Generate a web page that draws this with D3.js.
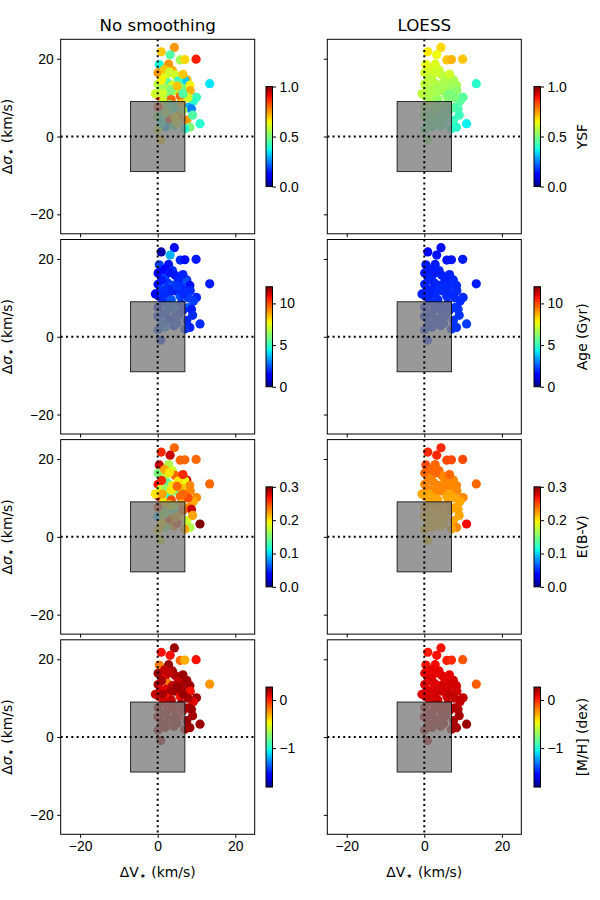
<!DOCTYPE html>
<html>
<head>
<meta charset="utf-8">
<script src="https://cdn.jsdelivr.net/npm/d3@7"></script>
<style>
  body { margin: 0; background: #fff; }
  svg { font-family: "DejaVu Sans", sans-serif; }
  .tick text { font-size: 13.9px; fill: #000; }
  .tick line, .domain { stroke: #000; }
</style>
</head>
<body>
<svg id="fig" width="600" height="900"></svg>
<script>
// star positions (same stars in every panel)
var dv = [4.3, 0.9, 3.2, 9.9, 5.8, 7.0, 0.4, 2.8, 0.1, 3.8, 2.0, 4.5, 7.5, 7.0, 5.3, 13.4, 2.6, 8.3, 8.4, 0.1,
          0.7, 2.8, 4.5, 10.0, 9.2, 0.3, -0.6, 5.8, 7.9, 8.7, 7.5, 10.9, 8.3, 7.0, 1.5, 3.5, 6.0, 0.1, 2.5, 4.5,
          5.5, 0.0, 3.0, 2.0, 0.1, 4.2, 0.8, 5.0, 1.5, 6.5, 1.0, 1.8, 6.2, 3.8, 9.0, 2.2, 7.8, 3.0,
          1.2, 3.5, 5.0, 4.0, 2.0, 6.5, 1.0, 4.5, 3.0, 6.5];
var ds = [22.9, 21.8, 21.0, 19.9, 19.7, 19.8, 18.5, 18.6, 16.4, 17.0, 15.7, 15.8, 14.6, 14.4, 14.3, 13.6, 13.8, 13.2, 11.8, 13.5,
          12.2, 10.9, 11.8, 10.1, 9.1, 10.4, 11.0, 10.4, 7.5, 7.1, 4.2, 3.3, 2.4, 2.0, 9.0, 9.5, 8.5, 7.6, 7.0, 6.5,
          5.5, 5.2, 4.5, 2.5, 1.8, 2.8, -0.9, 3.5, 5.8, 6.8, 14.5, 17.3, 12.5, 13.2, 5.5, 12.3, 10.0, 8.2,
          11.0, 12.0, 13.0, 8.0, 6.0, 11.0, 3.5, 5.0, 16.5, 16.0];

// raw values
var ysf = [0.75, 0.70, 0.45, 0.88, 0.55, 0.68, 0.38, 0.75, 0.75, 0.72, 0.62, 0.60, 0.72, 0.32, 0.42, 0.35, 0.45, 0.65, 0.72, 0.58,
           0.55, 0.50, 0.58, 0.42, 0.40, 0.85, 0.60, 0.80, 0.30, 0.25, 0.75, 0.40, 0.50, 0.40, 0.60, 0.80, 0.70, 0.85, 0.55, 0.40,
           0.75, 0.50, 0.85, 0.30, 0.60, 0.45, 0.70, 0.60, 0.40, 0.55, 0.65, 0.70, 0.50, 0.60, 0.45, 0.55, 0.60, 0.50,
           0.60, 0.50, 0.70, 0.45, 0.55, 0.45, 0.40, 0.65, 0.60, 0.70];
var age = [1.5, 0.4, 3.6, 1.8, 2.0, 1.6, 2.2, 1.7, 1.5, 2.0, 2.3, 1.8, 2.0, 2.5, 1.9, 1.8, 2.1, 1.7, 2.0, 1.6,
           2.2, 2.0, 1.8, 1.9, 2.2, 1.8, 1.5, 2.4, 2.6, 1.8, 2.0, 2.0, 1.9, 2.1, 2.0, 2.5, 2.0, 1.8, 2.8, 3.0,
           2.2, 2.4, 2.0, 3.2, 2.5, 2.0, 2.2, 2.4, 2.2, 2.0, 1.8, 1.5, 2.0, 2.3, 2.0, 2.1, 2.2, 2.4,
           2.0, 1.9, 2.1, 2.6, 2.3, 2.0, 2.8, 2.2, 1.7, 1.9];
var ebv = [0.24, 0.26, 0.28, 0.24, 0.24, 0.24, 0.28, 0.17, 0.15, 0.18, 0.17, 0.24, 0.28, 0.19, 0.20, 0.24, 0.14, 0.23, 0.23, 0.27,
           0.18, 0.12, 0.15, 0.23, 0.22, 0.28, 0.20, 0.24, 0.23, 0.28, 0.18, 0.30, 0.17, 0.22, 0.20, 0.25, 0.22, 0.25, 0.15, 0.12,
           0.20, 0.10, 0.25, 0.15, 0.20, 0.22, 0.18, 0.25, 0.18, 0.24, 0.26, 0.22, 0.21, 0.20, 0.22, 0.16, 0.25, 0.20,
           0.22, 0.20, 0.24, 0.18, 0.16, 0.24, 0.20, 0.22, 0.20, 0.26];
var mh = [0.22, 0.05, 0.05, 0.05, -0.15, -0.3, -0.2, 0.22, 0.22, 0.20, 0.10, 0.20, 0.20, 0.22, 0.15, -0.25, -0.2, 0.22, 0.05, 0.20,
          0.10, 0.05, 0.22, 0.22, 0.10, 0.05, 0.15, 0.05, 0.20, 0.22, 0.22, 0.22, 0.22, 0.20, 0.10, 0.15, 0.20, 0.20, 0.20, 0.10,
          0.05, 0.15, 0.20, 0.22, 0.20, 0.22, 0.20, 0.22, 0.20, 0.15, 0.20, 0.15, 0.20, 0.15, 0.20, 0.10, 0.20, 0.10,
          0.20, 0.20, 0.22, 0.15, 0.20, 0.22, 0.22, 0.20, 0.15, 0.22];

// LOESS-smoothed values
var ysfL = [0.68, 0.66, 0.64, 0.70, 0.70, 0.72, 0.63, 0.62, 0.60, 0.60, 0.58, 0.58, 0.56, 0.55, 0.56, 0.40, 0.57, 0.55, 0.52, 0.58,
            0.57, 0.55, 0.55, 0.46, 0.46, 0.56, 0.58, 0.52, 0.45, 0.44, 0.42, 0.36, 0.40, 0.40, 0.55, 0.53, 0.50, 0.52, 0.50, 0.48,
            0.46, 0.50, 0.46, 0.45, 0.48, 0.44, 0.50, 0.43, 0.48, 0.46, 0.58, 0.61, 0.54, 0.56, 0.42, 0.56, 0.50, 0.52,
            0.56, 0.55, 0.55, 0.50, 0.49, 0.50, 0.47, 0.45, 0.60, 0.60];
var ageL = [1.6, 1.5, 1.7, 1.8, 1.7, 1.7, 1.8, 1.8, 1.8, 1.9, 1.9, 1.9, 2.0, 2.0, 1.9, 1.8, 1.9, 2.0, 2.0, 1.9,
            1.9, 2.0, 2.0, 2.0, 2.0, 1.9, 1.9, 2.0, 2.1, 2.1, 2.1, 2.2, 2.1, 2.1, 2.0, 2.0, 2.0, 2.0, 2.1, 2.1,
            2.1, 2.1, 2.1, 2.2, 2.2, 2.2, 2.2, 2.2, 2.1, 2.1, 1.9, 1.8, 2.0, 1.9, 2.1, 1.9, 2.0, 2.0,
            1.9, 2.0, 2.0, 2.0, 2.1, 2.0, 2.2, 2.1, 1.8, 1.9];
var ebvL = [0.26, 0.26, 0.26, 0.25, 0.25, 0.25, 0.25, 0.24, 0.24, 0.24, 0.23, 0.23, 0.23, 0.23, 0.23, 0.24, 0.23, 0.23, 0.23, 0.23,
            0.23, 0.22, 0.23, 0.23, 0.22, 0.22, 0.22, 0.22, 0.22, 0.22, 0.22, 0.27, 0.23, 0.22, 0.22, 0.22, 0.22, 0.22, 0.21, 0.21,
            0.21, 0.21, 0.21, 0.21, 0.21, 0.21, 0.21, 0.21, 0.21, 0.22, 0.23, 0.24, 0.23, 0.23, 0.22, 0.23, 0.22, 0.22,
            0.22, 0.23, 0.23, 0.22, 0.21, 0.22, 0.21, 0.21, 0.24, 0.24];
var mhL = [0.05, 0.03, 0.05, -0.10, 0.02, 0.00, 0.05, 0.06, 0.08, 0.08, 0.10, 0.10, 0.12, 0.12, 0.10, -0.12, 0.10, 0.12, 0.12, 0.10,
           0.10, 0.12, 0.12, 0.15, 0.15, 0.12, 0.10, 0.12, 0.18, 0.18, 0.20, 0.22, 0.20, 0.20, 0.12, 0.12, 0.15, 0.15, 0.16, 0.16,
           0.18, 0.16, 0.18, 0.20, 0.18, 0.20, 0.18, 0.20, 0.16, 0.17, 0.10, 0.08, 0.12, 0.10, 0.20, 0.10, 0.15, 0.14,
           0.12, 0.12, 0.12, 0.15, 0.16, 0.15, 0.18, 0.18, 0.08, 0.08];

var rowLabels = ["YSF", "Age (Gyr)", "E(B-V)", "[M/H] (dex)"];
var rowDomains = [[0, 1], [0, 12], [0, 0.3], [-1.81, 0.27]];
var rowTicks = [[0, 0.5, 1.0], [0, 5, 10], [0, 0.1, 0.2, 0.3], [-1, 0]];
var rowFormats = [".1f", "d", ".1f", "d"];
var rawSeries = [ysf, age, ebv, mh];
var loessSeries = [ysfL, ageL, ebvL, mhL];
var colTitles = ["No smoothing", "LOESS"];
var axisTicks = [-20, 0, 20];
var boxHalf = [7, 9];

// matplotlib "jet"
var jetR = [[0, 0], [0.35, 0], [0.66, 1], [0.89, 1], [1, 0.5]];
var jetG = [[0, 0], [0.125, 0], [0.375, 1], [0.64, 1], [0.91, 0], [1, 0]];
var jetB = [[0, 0.5], [0.11, 1], [0.34, 1], [0.65, 0], [1, 0]];
function seg(pts, t) {
  for (var i = 1; i < pts.length; i++) {
    if (t <= pts[i][0]) {
      var f = (t - pts[i-1][0]) / (pts[i][0] - pts[i-1][0]);
      return pts[i-1][1] + f * (pts[i][1] - pts[i-1][1]);
    }
  }
  return pts[pts.length-1][1];
}
function jet(t) {
  t = Math.max(0, Math.min(1, t));
  return d3.rgb(255*seg(jetR, t), 255*seg(jetG, t), 255*seg(jetB, t)).formatHex();
}
function fmtMinus(f) { var g = d3.format(f); return function(d) { return g(d).replace("-", "\u2212"); }; }

var svg = d3.select("#fig");
var defs = svg.append("defs");
var colLeft = [60.7, 327.3], panelW = 194, panelH = 194.5;
var rowTop = [39.3, 239.5, 439.6, 639.8];
var cbX = [266, 534], cbW = 6.5, cbH = 100;

// gradient for colorbars
var grad = defs.append("linearGradient").attr("id", "jet")
  .attr("x1", 0).attr("y1", 1).attr("x2", 0).attr("y2", 0);
d3.range(0, 65).forEach(function(i) {
  grad.append("stop").attr("offset", i/64).attr("stop-color", jet(i/64));
});

for (var r = 0; r < 4; r++) {
  for (var c = 0; c < 2; c++) {
    var L = colLeft[c], T = rowTop[r];
    var x = d3.scaleLinear().domain([-25, 25]).range([L, L + panelW]);
    var y = d3.scaleLinear().domain([-25, 25]).range([T + panelH, T]);
    var norm = d3.scaleLinear().domain(rowDomains[r]).range([0, 1]);
    var vals = c === 0 ? rawSeries[r] : loessSeries[r];
    var clipId = "clip" + r + c;
    defs.append("clipPath").attr("id", clipId).append("rect")
      .attr("x", L).attr("y", T).attr("width", panelW).attr("height", panelH);
    var g = svg.append("g");
    var inner = g.append("g").attr("clip-path", "url(#" + clipId + ")");

    inner.selectAll("circle").data(dv).enter().append("circle")
      .attr("cx", function(d) { return x(d); })
      .attr("cy", function(d, i) { return y(ds[i]); })
      .attr("r", 4.6)
      .style("fill", function(d, i) { return jet(norm(vals[i])); });

    inner.append("rect")
      .attr("x", x(-boxHalf[0])).attr("y", y(boxHalf[1]))
      .attr("width", x(boxHalf[0]) - x(-boxHalf[0]))
      .attr("height", y(-boxHalf[1]) - y(boxHalf[1]))
      .style("fill", "rgba(128,128,128,0.8)")
      .style("stroke", "rgba(0,0,0,0.8)").style("stroke-width", 1);

    inner.append("line").attr("x1", x(-25)).attr("x2", x(25)).attr("y1", y(0)).attr("y2", y(0))
      .style("stroke", "#000").style("stroke-width", 2).style("stroke-dasharray", "2,3.3");
    inner.append("line").attr("x1", x(0)).attr("x2", x(0)).attr("y1", y(25)).attr("y2", y(-25))
      .style("stroke", "#000").style("stroke-width", 2).style("stroke-dasharray", "2,3.3");

    g.append("rect").attr("x", L).attr("y", T).attr("width", panelW).attr("height", panelH)
      .style("fill", "none").style("stroke", "#000").style("stroke-width", 1);

    var ax = d3.axisBottom(x).tickValues(axisTicks).tickSize(3.5).tickPadding(3.5)
      .tickFormat(r === 3 ? fmtMinus("d") : function() { return ""; });
    var ay = d3.axisLeft(y).tickValues(axisTicks).tickSize(3.5).tickPadding(3.5)
      .tickFormat(c === 0 ? fmtMinus("d") : function() { return ""; });
    g.append("g").attr("transform", "translate(0," + (T + panelH) + ")").call(ax)
      .call(function(s) { s.select(".domain").remove(); });
    g.append("g").attr("transform", "translate(" + L + ",0)").call(ay)
      .call(function(s) { s.select(".domain").remove(); });

    if (r === 0) {
      svg.append("text").attr("x", L + panelW/2).attr("y", 31).attr("text-anchor", "middle")
        .style("font-size", "16.7px").text(colTitles[c]);
    }
    if (c === 0) {
      var yl = svg.append("text").attr("transform", "translate(12," + (T + panelH/2) + ") rotate(-90)")
        .attr("text-anchor", "middle").style("font-size", "13.9px");
      yl.append("tspan").text("\u0394");
      yl.append("tspan").style("font-style", "italic").text("\u03c3");
      yl.append("tspan").attr("dy", 3).style("font-size", "13px").text("\u22c6");
      yl.append("tspan").attr("dy", -3).text(" (km/s)");
    }
    if (r === 3) {
      var xl = svg.append("text").attr("x", L + panelW/2).attr("y", 877)
        .attr("text-anchor", "middle").style("font-size", "13.9px");
      xl.append("tspan").text("\u0394V");
      xl.append("tspan").attr("dy", 3).style("font-size", "13px").text("\u22c6");
      xl.append("tspan").attr("dy", -3).text(" (km/s)");
    }

    // colorbar
    var cbTop = T + panelH/2 - cbH/2;
    var cy = d3.scaleLinear().domain(rowDomains[r]).range([cbTop + cbH, cbTop]);
    svg.append("rect").attr("x", cbX[c]).attr("y", cbTop).attr("width", cbW).attr("height", cbH)
      .style("fill", "url(#jet)").style("stroke", "#000").style("stroke-width", 1);
    svg.append("g").attr("transform", "translate(" + (cbX[c] + cbW) + ",0)")
      .call(d3.axisRight(cy).tickValues(rowTicks[r]).tickSize(3.5).tickPadding(3.5)
        .tickFormat(fmtMinus(rowFormats[r])))
      .call(function(s) { s.select(".domain").remove(); });
    if (c === 1) {
      svg.append("text").attr("transform", "translate(587," + (cbTop + cbH/2) + ") rotate(-90)")
        .attr("text-anchor", "middle").style("font-size", "13.9px").text(rowLabels[r]);
    }
  }
}
</script>
</body>
</html>
